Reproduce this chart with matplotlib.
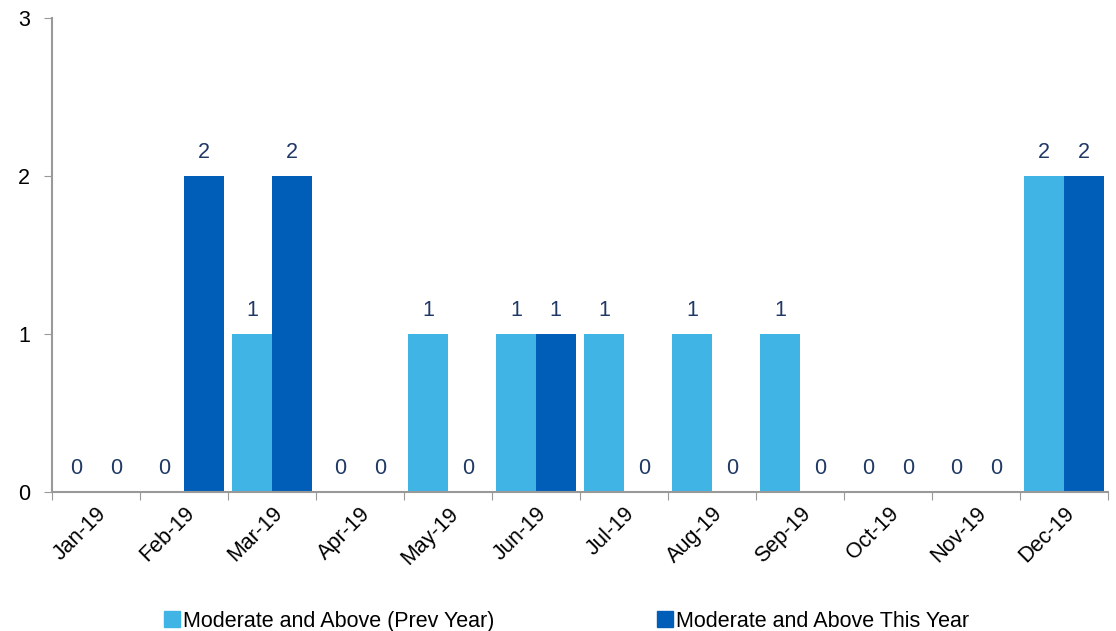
import numpy as np
import matplotlib.pyplot as plt
from matplotlib.lines import Line2D

plt.rcParams['font.family'] = ['Liberation Sans', 'DejaVu Sans']

months = ['Jan-19', 'Feb-19', 'Mar-19', 'Apr-19', 'May-19', 'Jun-19',
          'Jul-19', 'Aug-19', 'Sep-19', 'Oct-19', 'Nov-19', 'Dec-19']
prev_year = [0, 0, 1, 0, 1, 1, 1, 1, 1, 0, 0, 2]
this_year = [0, 2, 2, 0, 0, 1, 0, 0, 0, 0, 0, 2]

light_blue = '#41b4e6'
dark_blue = '#005eb8'
label_col = '#1f3864'
fs = 15.5

fig = plt.figure(figsize=(11.16, 6.31), dpi=100)
ax = fig.add_axes([0.0466, 0.2203, 0.9462, 0.7512])

x = np.arange(len(months))
w = 0.45
b1 = ax.bar(x - w / 2, prev_year, w, color=light_blue)
b2 = ax.bar(x + w / 2, this_year, w, color=dark_blue)

for bars, vals in [(b1, prev_year), (b2, this_year)]:
    for r, v in zip(bars, vals):
        ax.annotate(str(v), (r.get_x() + r.get_width() / 2, v),
                    xytext=(0, 9), textcoords='offset points',
                    ha='center', va='bottom', fontsize=fs, color=label_col)

ax.set_xlim(-0.5, len(months) - 0.5)
ax.set_ylim(0, 3)
ax.set_yticks([0, 1, 2, 3])

# tick marks between categories, labels at centres
ax.set_xticks(np.arange(-0.5, len(months), 1))
ax.set_xticklabels([])
ax.set_xticks(x, minor=True)
ax.set_xticklabels(months, minor=True, rotation=45, ha='right',
                   rotation_mode='anchor', fontsize=fs)
ax.tick_params(axis='x', which='minor', length=0, pad=8)
ax.tick_params(axis='x', which='major', length=6, color='#999999')
ax.tick_params(axis='y', length=6, color='#999999', labelsize=fs, pad=10)

for s in ['top', 'right']:
    ax.spines[s].set_visible(False)
for s in ['left', 'bottom']:
    ax.spines[s].set_color('#999999')
    ax.spines[s].set_linewidth(1.5)

handles = [Line2D([], [], marker='s', ls='', color=light_blue, markersize=11),
           Line2D([], [], marker='s', ls='', color=dark_blue, markersize=11)]
fig.legend(handles, ['Moderate and Above (Prev Year)', 'Moderate and Above This Year'],
           loc='lower center', bbox_to_anchor=(0.508, -0.032), ncol=2, frameon=False,
           fontsize=fs, handlelength=0.7, handletextpad=0.15, columnspacing=7.6)

fig.savefig('out.png', dpi=100)
